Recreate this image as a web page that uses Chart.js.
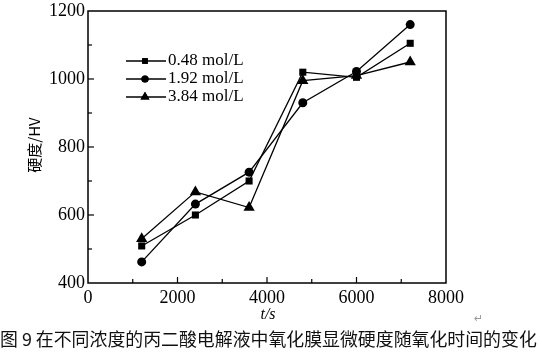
<!DOCTYPE html>
<html lang="zh">
<head>
<meta charset="UTF-8">
<title>硬度随氧化时间的变化</title>
<script src="https://cdn.jsdelivr.net/npm/chart.js@4.4.1/dist/chart.umd.min.js"></script>
<style>
body { margin: 0; background: #fff; }
.wrap { position: relative; width: 540px; height: 358px; }
#caption {
  position: absolute; left: 0; top: 325px; width: 540px;
  font-family: "Noto Sans CJK SC", sans-serif; font-size: 17.9px; color: #111;
  white-space: nowrap;
}
#ret { position: absolute; left: 474px; top: 312px; font-size: 11px; color: #999; font-family: "DejaVu Sans"; }
</style>
</head>
<body>
<div class="wrap">
<canvas id="chart" width="540" height="358"></canvas>
<div id="ret">↵</div>
<div id="caption">图 9 在不同浓度的丙二酸电解液中氧化膜显微硬度随氧化时间的变化</div>
</div>
<script>
// oxidation time (s)
const times = [1200, 2400, 3600, 4800, 6000, 7200];
// microhardness (HV) per malonic acid concentration
const hv048 = [509, 600, 700, 1020, 1005, 1105];
const hv192 = [462, 632, 726, 930, 1022, 1160];
const hv384 = [530, 668, 622, 995, 1010, 1050];
const seriesLabels = ['0.48 mol/L', '1.92 mol/L', '3.84 mol/L'];
const pointStyles = ['rect', 'circle', 'triangle'];
const pointSizes = [5, 4.5, 6.5];

const serif = '"Liberation Serif", "DejaVu Serif", serif';

function makeSet(i, vals) {
  return {
    label: seriesLabels[i],
    data: times.map((t, k) => ({ x: t, y: vals[k] })),
    borderColor: '#000',
    backgroundColor: '#000',
    borderWidth: 1.3,
    pointStyle: pointStyles[i],
    pointRadius: pointSizes[i],
    pointBorderWidth: 0,
    tension: 0
  };
}

// frame, inward ticks, legend, axis titles
const decor = {
  id: 'decor',
  afterDraw(chart) {
    const c = chart.ctx;
    const a = chart.chartArea;
    const xs = chart.scales.x, ys = chart.scales.y;
    c.save();
    c.strokeStyle = '#000';
    c.lineWidth = 1.5;
    c.strokeRect(a.left, a.top, a.right - a.left, a.bottom - a.top);
    c.lineWidth = 1.2;
    for (let v = 1000; v < 8000; v += 1000) {
      const px = xs.getPixelForValue(v);
      const len = v % 2000 === 0 ? 6 : 4;
      c.beginPath(); c.moveTo(px, a.bottom); c.lineTo(px, a.bottom - len); c.stroke();
    }
    for (let v = 500; v < 1200; v += 100) {
      const py = ys.getPixelForValue(v);
      const len = v % 200 === 0 ? 6 : 4;
      c.beginPath(); c.moveTo(a.left, py); c.lineTo(a.left + len, py); c.stroke();
    }
    // legend
    c.font = '17px ' + serif;
    c.fillStyle = '#000';
    c.textBaseline = 'middle';
    chart.data.datasets.forEach((ds, i) => {
      const y = 61 + i * 18;
      c.lineWidth = 1.3;
      c.beginPath(); c.moveTo(126, y); c.lineTo(166, y); c.stroke();
      Chart.helpers.drawPoint(c, { pointStyle: ds.pointStyle, radius: ds.pointRadius * 0.8, borderWidth: 0 }, 145, y);
      c.fill();
      c.fillText(ds.label, 168, y);
    });
    // y title
    c.save();
    c.translate(34, 145);
    c.rotate(-Math.PI / 2);
    c.textAlign = 'center';
    c.font = '15px "Noto Sans CJK SC", ' + serif;
    c.fillText('硬度/HV', 0, 0);
    c.restore();
    // x title
    c.textAlign = 'center';
    c.font = 'italic 16px ' + serif;
    c.fillText('t/s', 268, 315);
    c.restore();
  }
};

new Chart(document.getElementById('chart'), {
  type: 'line',
  data: { datasets: [makeSet(0, hv048), makeSet(1, hv192), makeSet(2, hv384)] },
  options: {
    responsive: false,
    animation: false,
    layout: { padding: { left: 0, top: 11, right: 94, bottom: 35 } },
    plugins: { legend: { display: false }, tooltip: { enabled: false } },
    scales: {
      x: {
        type: 'linear', min: 0, max: 8000,
        grid: { display: false },
        border: { display: false },
        ticks: { stepSize: 2000, color: '#000', padding: -4, maxRotation: 0, font: { family: serif, size: 18 }, callback: v => String(v) },
        afterFit(s) { s.height = 40; }
      },
      y: {
        min: 400, max: 1200,
        grid: { display: false },
        border: { display: false },
        ticks: { stepSize: 200, color: '#000', padding: -5, font: { family: serif, size: 18 }, callback: v => String(v) },
        afterFit(s) { s.width = 88; }
      }
    }
  },
  plugins: [decor]
});
</script>
</body>
</html>
